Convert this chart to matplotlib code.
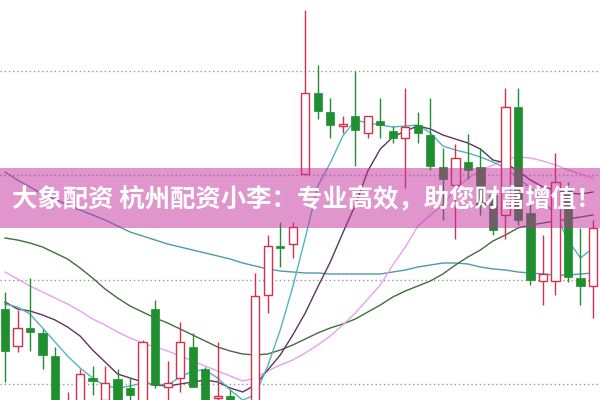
import numpy as np
import matplotlib.pyplot as plt

plt.rcParams['font.family'] = ['Noto Sans CJK SC', 'DejaVu Sans']

# daily candles, oldest first
opens = [91, 54, 72, 67, 44, -20, -5, 22, 0, 21, 12, -5, 91, 13, 22, 53, 31, 2, 4, -25,
         -5, 105, 154, 156, 226, 307, 288, 274, 284, 267, 279, 269, 262, 275, 265, 233, 215, 238,
         233, 205, 185, 293, 187, 119, 119, 212, 122, 114]
highs = [108, 90, 122, 71, 53, 8, 31, 34, 34, 31, 22, 60, 100, 39, 78, 67, 33, 58, 10, -3,
         127, 165, 178, 178, 390, 335, 302, 284, 329, 284, 302, 274, 312, 288, 302, 252, 256, 266,
         252, 215, 312, 312, 200, 165, 247, 218, 172, 180]
lows = [18, 48, 49, 31, -15, -25, -10, 5, -5, -10, -5, -10, 12, -5, 8, 13, -10, -10, -15, -30,
        -10, 87, 133, 142, 226, 281, 262, 267, 234, 262, 262, 257, 212, 257, 230, 180, 161, 221,
        185, 165, 161, 175, 115, 95, 105, 118, 95, 82]
closes = [49, 72, 68, 45, -10, -4, 26, 19, 17, -5, 5, 58, 15, 17, 58, 13, -5, 4, -10, -8,
          104, 154, 152, 173, 307, 289, 275, 276, 270, 284, 275, 262, 273, 267, 234, 221, 242, 230,
          195, 170, 293, 180, 120, 126, 218, 123, 114, 172]

ma5 = [96, 93, 86, 72, 58, 44, 32, 22, 14, 12, 14, 17, 16, 15, 23, 29, 30, 22, 10, 0,
       5, 34, 70, 113, 162, 214, 237, 264, 280, 277, 275, 273, 274, 275, 267, 254, 250, 247,
       243, 238, 232, 222, 212, 200, 185, 160, 142, 152]
ma10 = [98, 91, 89, 85, 80, 73, 64, 50, 38, 26, 22, 18, 15, 14, 16, 18, 20, 18, 12, 8,
        15, 30, 45, 65, 87, 113, 138, 167, 195, 229, 251, 263, 269, 274, 271, 265, 261, 257,
        251, 240, 237, 229, 220, 213, 210, 207, 206, 208]
ma20 = [128, 121, 114, 108, 102, 96, 89, 81, 75, 68, 62, 57, 53, 49, 44, 39, 34, 29, 24, 19,
        22, 29, 35, 40, 47, 55, 64, 75, 87, 101, 115, 135, 153, 174, 185, 195, 211, 222,
        229, 235, 241, 243, 242, 239, 235, 230, 226, 222]
ma30 = [162, 160, 157, 153, 147, 141, 132, 122, 111, 102, 94, 88, 82, 77, 71, 65, 59, 53, 49, 46,
        45, 46, 50, 55, 61, 67, 72, 76, 81, 88, 95, 103, 109, 114, 119, 126, 135, 143,
        150, 159, 165, 172, 175, 177, 179, 181, 183, 185]
ma60 = [228, 220, 213, 206, 201, 195, 190, 185, 180, 174, 168, 164, 160, 156, 153, 150, 147, 144, 141, 137,
        134, 131, 129, 128, 127, 127, 126, 126, 126, 126, 126, 128, 130, 133, 135, 137, 137, 136,
        133, 131, 130, 128, 127, 126, 125, 125, 126, 127]

grid_levels = [16, 120, 225, 329]
banner_text = '大象配资 杭州配资小李：专业高效，助您财富增值！'

red = '#d8304c'
green = '#1f8f2f'

fig = plt.figure(figsize=(6, 4), dpi=100)
ax = fig.add_axes([0, 0, 1, 1])
x = np.arange(len(opens))

for lv in grid_levels:
    ax.axhline(lv, color='#999999', lw=1.0, ls=(0, (1, 2)), zorder=1)

ax.plot(x, ma60, color='#4e9aa6', lw=1.0, zorder=2)
ax.plot(x, ma30, color='#3f6e3a', lw=1.0, zorder=2)
ax.plot(x, ma20, color='#e8a0ea', lw=1.0, zorder=2)
ax.plot(x, ma10, color='#5e3460', lw=1.0, zorder=2)
ax.plot(x, ma5, color='#4fb5c2', lw=1.0, zorder=2)

for i in range(len(opens)):
    o, h, l, c = opens[i], highs[i], lows[i], closes[i]
    up = c >= o
    col = red if up else green
    ax.vlines(i, l, h, color=col, lw=1.0, zorder=3)
    bottom = min(o, c)
    height = max(abs(c - o), 1.5)
    if up:
        ax.bar(i, height, bottom=bottom, width=0.66, facecolor='white',
               edgecolor=col, lw=1.0, zorder=4)
    else:
        ax.bar(i, height, bottom=bottom, width=0.66, facecolor=col,
               edgecolor=col, lw=0.5, zorder=4)

# pink banner over the chart
ax.axhspan(172, 232, color='#c32d9b', alpha=0.5, lw=0, zorder=5)
ax.text(24.1, 201, banner_text, color='white', fontsize=18.3, fontweight='bold',
        ha='center', va='center', zorder=6)

ax.set_xlim(-0.4, 47.56)
ax.set_ylim(0, 400)
ax.axis('off')

fig.savefig('out.png', dpi=100)
